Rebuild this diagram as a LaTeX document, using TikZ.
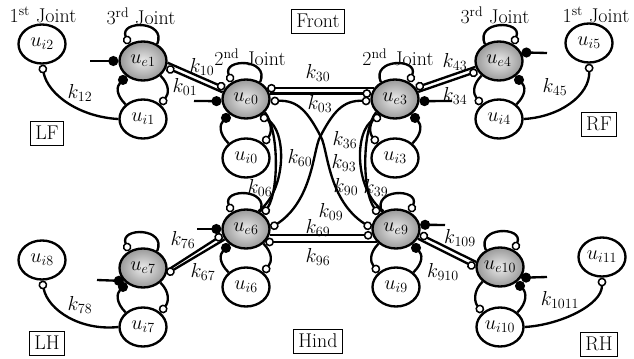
\documentclass[tikz,border=0pt]{standalone}
\usepackage{amsmath}
\usetikzlibrary{shapes.geometric, arrows.meta}
\tikzset{
  x=0.03cm, y=-0.03cm, % pixel grid, y downwards
  lnk/.style={line width=2pt}, % every connector
  oc/.style={-{Circle[open, fill=white, length=7.5pt, line width=1.3pt]}}, % open circle end
  boc/.style={{Circle[open, fill=white, length=7.5pt, line width=1.3pt]}-{Circle[open, fill=white, length=7.5pt, line width=1.3pt]}}, % open circles at both ends
  dt/.style={-{Circle[length=8.5pt]}}, % filled dot end
  exc/.style={ellipse, draw, line width=2pt, minimum width=1.41cm, minimum height=1.17cm,
    inner sep=0pt, inner color=gray!15, outer color=gray!80}, % excitatory neuron
  inh/.style={ellipse, draw, line width=2pt, minimum width=1.41cm, minimum height=1.17cm,
    inner sep=0pt, fill=white}, % inhibitory neuron
  leg/.style={draw, line width=0.8pt, inner sep=4pt, minimum height=0.72cm}, % leg boxes
  kl/.style={inner sep=1pt}, % coupling labels
}

\begin{document}
\fontsize{17}{19}\selectfont
\begin{tikzpicture}
  \useasboundingbox (0,0) rectangle (634,358);

  % neurons
  \node[exc] (e1) at (143,61) {$u_{e1}$};
  \node[inh] (i1) at (143,119) {$u_{i1}$};
  \node[inh] (i2) at (42,44) {$u_{i2}$};
  \node[exc] (e0) at (246,99) {$u_{e0}$};
  \node[inh] (i0) at (246,158) {$u_{i0}$};
  \node[exc] (e3) at (395,99) {$u_{e3}$};
  \node[inh] (i3) at (395,158) {$u_{i3}$};
  \node[exc] (e4) at (499,61) {$u_{e4}$};
  \node[inh] (i4) at (499,119) {$u_{i4}$};
  \node[inh] (i5) at (589,43) {$u_{i5}$};
  \node[exc] (e6) at (246,229) {$u_{e6}$};
  \node[inh] (i6) at (246,287) {$u_{i6}$};
  \node[exc] (e9) at (396,229) {$u_{e9}$};
  \node[inh] (i9) at (396,287) {$u_{i9}$};
  \node[exc] (e7) at (143,268) {$u_{e7}$};
  \node[inh] (i7) at (143,327) {$u_{i7}$};
  \node[inh] (i8) at (42,260) {$u_{i8}$};
  \node[exc] (e10) at (500,267) {$u_{e10}$};
  \node[inh] (i10) at (500,327) {$u_{i10}$};
  \node[inh] (i11) at (602,257) {$u_{i11}$};

  % boxes and titles
  \node[leg] (lf) at (47,133) {LF};
  \node[leg] (rf) at (599,124) {RF};
  \node[leg] (lh) at (47,343) {LH};
  \node[leg] (rh) at (599,344) {RH};
  \node[leg] (front) at (318,21) {Front};
  \node[leg] (hind) at (318,341) {Hind};
  \node (j1l) at (43,15) {1\textsuperscript{st} Joint};
  \node (j3l) at (141,16) {3\textsuperscript{rd} Joint};
  \node (j2l) at (250,57) {2\textsuperscript{nd} Joint};
  \node (j2r) at (398,57) {2\textsuperscript{nd} Joint};
  \node (j3r) at (495,15) {3\textsuperscript{rd} Joint};
  \node (j1r) at (596,15) {1\textsuperscript{st} Joint};

  % self loops and e-i pairs, left side
  \foreach \e/\i in {e1/i1, e0/i0, e6/i6, e7/i7}{
    \draw[lnk, oc] (\e.50) .. controls +(10,-24) and +(-10,-24) .. (\e.130);
    \draw[lnk, dt] (\i.140) .. controls +(-10,-10) and +(-10,10) .. (\e.223);
    \draw[lnk, oc] (\e.-40) .. controls +(10,10) and +(8,-10) .. (\i.40);
  }
  % self loops and e-i pairs, right side
  \foreach \e/\i in {e3/i3, e4/i4, e9/i9, e10/i10}{
    \draw[lnk, oc] (\e.130) .. controls +(-10,-24) and +(10,-24) .. (\e.50);
    \draw[lnk, dt] (\i.40) .. controls +(10,-10) and +(10,10) .. (\e.-43);
    \draw[lnk, oc] (\e.220) .. controls +(-10,10) and +(-8,-10) .. (\i.140);
  }

  % tonic inputs
  \coordinate (s1) at (90,61);
  \coordinate (s0) at (194,101);
  \coordinate (s3) at (452,101);
  \coordinate (s4) at (547,53);
  \coordinate (s6) at (197,229);
  \coordinate (s9) at (445,225);
  \coordinate (s7) at (97,280);
  \coordinate (s10) at (547,277);
  \draw[lnk, dt] (s1) -- (e1.180);
  \draw[lnk, dt] (s0) -- (e0.185);
  \draw[lnk, dt] (s3) -- (e3.-5);
  \draw[lnk, dt] (s4) -- (e4.21);
  \draw[lnk, dt] (s6) -- (e6.180);
  \draw[lnk, dt] (s9) -- (e9.10);
  \draw[lnk, dt] (s7) -- (e7.214);
  \draw[lnk, dt] (s10) -- (e10.-27);

  % joint couplings inside each leg
  \draw[lnk, oc] (i1.180) .. controls (80,117) and (48,95) .. (i2.-90);
  \draw[lnk, oc] (i4.0) .. controls (560,117) and (590,95) .. (i5.-90);
  \draw[lnk, oc] (i7.180) .. controls (80,331) and (48,310) .. (i8.-90);
  \draw[lnk, oc] (i10.0) .. controls (560,325) and (602,305) .. (i11.-90);

  % hip-knee double links
  \draw[lnk, oc] (e1.-4) -- (e0.152);
  \draw[lnk, oc] (e0.164) -- (e1.-16);
  \draw[lnk, oc] (e4.194) -- (e3.29);
  \draw[lnk, oc] (e3.17) -- (e4.206);
  \draw[lnk, oc] (e7.-5) -- (e6.194);
  \draw[lnk, oc] (e6.206) -- (e7.-14);
  \draw[lnk, oc] (e10.168) -- (e9.-12);
  \draw[lnk, oc] (e9.-24) -- (e10.181);

  % couplings between the hips
  \draw[lnk, oc] (e3.153) -- (e0.27);
  \draw[lnk, oc] (e0.13) -- (e3.167);
  \draw[lnk, oc] (e6.-15) -- (e9.195);
  \draw[lnk, oc] (e9.214) -- (e6.-34);
  \draw[lnk, oc] (e0.-35) .. controls (279,130) and (279,190) .. (e6.40);
  \draw[lnk, oc] (e6.55) .. controls (287,190) and (287,130) .. (e0.-50);
  \draw[lnk, oc] (e3.215) .. controls (362,130) and (362,190) .. (e9.140);
  \draw[lnk, oc] (e9.125) .. controls (354,190) and (354,130) .. (e3.230);
  % diagonal links, one line each
  \draw[lnk, boc] (e0.-5) .. controls (298,100) and (308,112) .. (321,137)
    .. controls (328,150) and (328,200) .. (e9.178);
  \draw[lnk, boc] (e3.185) .. controls (343,100) and (333,112) .. (320,137)
    .. controls (313,150) and (313,200) .. (e6.2);

  % coupling labels
  \node[kl] (k10) at (202,67) {$k_{10}$};
  \node[kl] (k01) at (185,87) {$k_{01}$};
  \node[kl] (k12) at (80,93) {$k_{12}$};
  \node[kl] (k43) at (455,62) {$k_{43}$};
  \node[kl] (k34) at (455,96) {$k_{34}$};
  \node[kl] (k45) at (555,87) {$k_{45}$};
  \node[kl] (k30) at (318,73) {$k_{30}$};
  \node[kl] (k03) at (320,104) {$k_{03}$};
  \node[kl] (k36) at (345,140) {$k_{36}$};
  \node[kl] (k60) at (300,158) {$k_{60}$};
  \node[kl] (k93) at (344,163) {$k_{93}$};
  \node[kl] (k90) at (346,187) {$k_{90}$};
  \node[kl] (k39) at (376,188) {$k_{39}$};
  \node[kl] (k06) at (260,188) {$k_{06}$};
  \node[kl] (k09) at (331,212) {$k_{09}$};
  \node[kl] (k69) at (318,228) {$k_{69}$};
  \node[kl] (k96) at (318,257) {$k_{96}$};
  \node[kl] (k76) at (183,240) {$k_{76}$};
  \node[kl] (k67) at (203,272) {$k_{67}$};
  \node[kl] (k78) at (80,305) {$k_{78}$};
  \node[kl] (k109) at (460,238) {$k_{109}$};
  \node[kl] (k910) at (443,272) {$k_{910}$};
  \node[kl] (k1011) at (560,300) {$k_{1011}$};
\end{tikzpicture}
\end{document}
